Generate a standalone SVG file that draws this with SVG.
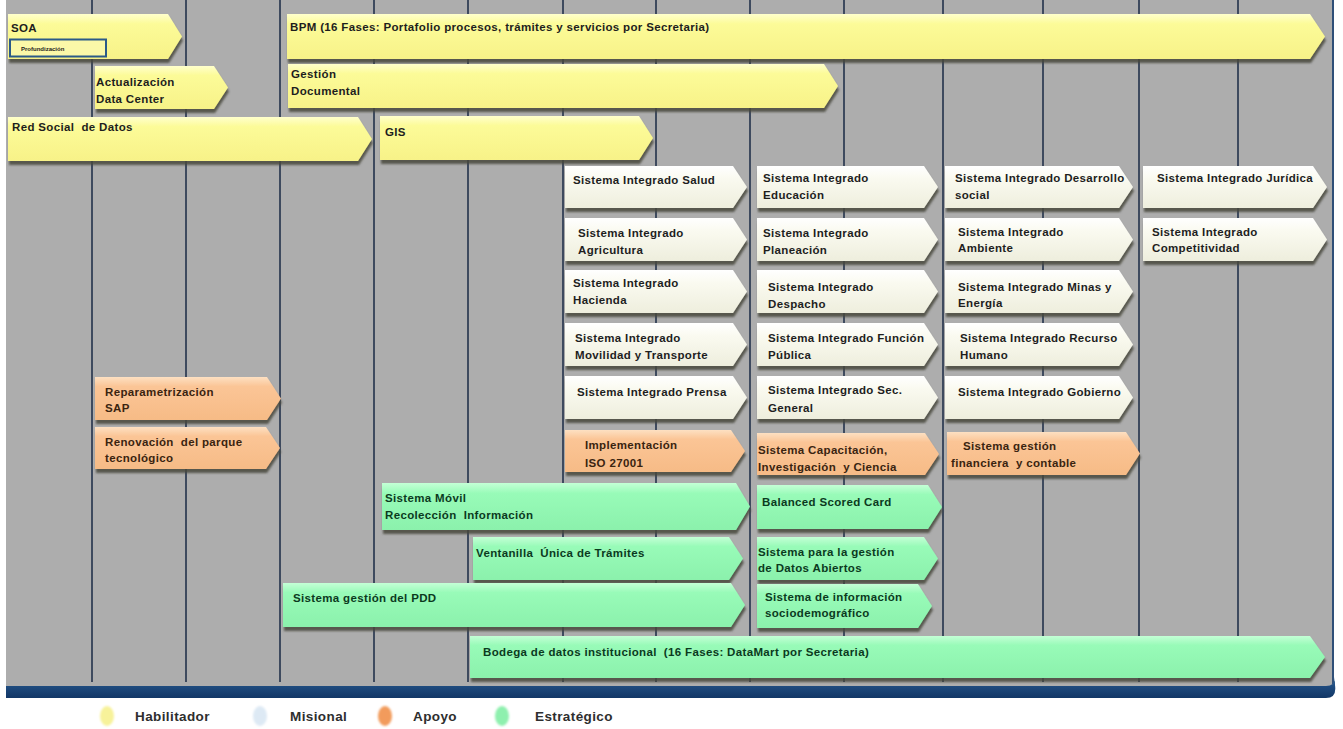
<svg xmlns="http://www.w3.org/2000/svg" width="1343" height="729" viewBox="0 0 1343 729">
  <style>
    text { font-family: "Liberation Sans", Arial, sans-serif; font-weight: bold; font-size: 11.5px; letter-spacing: 0.35px; }
    .hab { fill: url(#gHab); filter: url(#shadow); }
    .mis { fill: url(#gMis); filter: url(#shadow); }
    .apo { fill: url(#gApo); filter: url(#shadow); }
    .est { fill: url(#gEst); filter: url(#shadow); }
    .tHab, .tMis { fill: #1e1e1e; }
    .tApo { fill: #3a2410; }
    .tEst { fill: #0b3a1e; }
    .grid { stroke: #3e4a5e; stroke-width: 2; }
    .leg { font-size: 13.5px; letter-spacing: 0.4px; fill: #2e2e2e; }
  </style>
  <defs>
    <linearGradient id="gHab" x1="0" y1="0" x2="0" y2="1">
      <stop offset="0" stop-color="#ffffcc"/>
      <stop offset="0.22" stop-color="#fcfb98"/>
      <stop offset="1" stop-color="#f7f288"/>
    </linearGradient>
    <linearGradient id="gMis" x1="0" y1="0" x2="0" y2="1">
      <stop offset="0" stop-color="#ffffff"/>
      <stop offset="0.3" stop-color="#fafaf0"/>
      <stop offset="1" stop-color="#eeeedd"/>
    </linearGradient>
    <linearGradient id="gApo" x1="0" y1="0" x2="0" y2="1">
      <stop offset="0" stop-color="#fde0c2"/>
      <stop offset="0.22" stop-color="#fbc596"/>
      <stop offset="1" stop-color="#f6bb86"/>
    </linearGradient>
    <linearGradient id="gEst" x1="0" y1="0" x2="0" y2="1">
      <stop offset="0" stop-color="#c4ffd6"/>
      <stop offset="0.22" stop-color="#98fbb8"/>
      <stop offset="1" stop-color="#8bf1ac"/>
    </linearGradient>
    <linearGradient id="gBand" x1="0" y1="0" x2="0" y2="1">
      <stop offset="0" stop-color="#4a7aa8"/>
      <stop offset="0.4" stop-color="#1f4c80"/>
      <stop offset="1" stop-color="#123766"/>
    </linearGradient>
    <filter id="shadow" x="-5%" y="-20%" width="110%" height="160%">
      <feDropShadow dx="1" dy="4" stdDeviation="1.3" flood-color="#46463c" flood-opacity="0.85"/>
    </filter>
    <filter id="soft" x="-50%" y="-50%" width="200%" height="200%">
      <feGaussianBlur stdDeviation="1.2"/>
    </filter>
  </defs>

  <!-- timeline panel -->
  <rect x="6" y="0" width="1328" height="690" fill="#adadad"/>
  <g id="grid">
    <line class="grid" x1="92" y1="0" x2="92" y2="682"/>
    <line class="grid" x1="186" y1="0" x2="186" y2="682"/>
    <line class="grid" x1="280" y1="0" x2="280" y2="682"/>
    <line class="grid" x1="374" y1="0" x2="374" y2="682"/>
    <line class="grid" x1="468" y1="0" x2="468" y2="682"/>
    <line class="grid" x1="563" y1="0" x2="563" y2="682"/>
    <line class="grid" x1="656" y1="0" x2="656" y2="682"/>
    <line class="grid" x1="750" y1="0" x2="750" y2="682"/>
    <line class="grid" x1="844" y1="0" x2="844" y2="682"/>
    <line class="grid" x1="943" y1="0" x2="943" y2="682"/>
    <line class="grid" x1="1043" y1="0" x2="1043" y2="682"/>
    <line class="grid" x1="1139" y1="0" x2="1139" y2="682"/>
    <line class="grid" x1="1238" y1="0" x2="1238" y2="682"/>
    <line x1="1333" y1="0" x2="1333" y2="684" stroke="#2f4f78" stroke-width="2"/>
  </g>
  <!-- bottom base band -->
  <path d="M6 686 H1326 Q1335 686 1335 677 V685 Q1337 698 1326 698 H6 Z" fill="url(#gBand)"/>

  <!-- Habilitador -->
  <g id="soa">
    <path class="hab" d="M8 14 H168 L182 36.5 L168 59 H8 Z"/>
    <text class="tHab" x="11" y="32">SOA</text>
    <rect x="10" y="39.5" width="96" height="17" fill="#fbf8a8" stroke="#2b5a88" stroke-width="2"/>
    <text class="tHab" x="21" y="50.5" style="font-size:6px;letter-spacing:0">Profundización</text>
  </g>
  <g id="bpm">
    <path class="hab" d="M287 14 H1310 L1325 36.5 L1310 59 H287 Z"/>
    <text class="tHab" x="290" y="31">BPM (16 Fases: Portafolio procesos, trámites y servicios por Secretaria)</text>
  </g>
  <g id="actualizacion-dc">
    <path class="hab" d="M95 66 H214 L228 87.5 L214 109 H95 Z"/>
    <text class="tHab" x="96" y="86">Actualización</text>
    <text class="tHab" x="96" y="103">Data Center</text>
  </g>
  <g id="gestion-documental">
    <path class="hab" d="M288 64 H824 L838 86 L824 108 H288 Z"/>
    <text class="tHab" x="291" y="78">Gestión</text>
    <text class="tHab" x="291" y="95">Documental</text>
  </g>
  <g id="red-social">
    <path class="hab" d="M8 117 H358 L372 139 L358 161 H8 Z"/>
    <text class="tHab" x="12" y="131">Red Social&#160; de Datos</text>
  </g>
  <g id="gis">
    <path class="hab" d="M380 116 H639 L653 138 L639 160 H380 Z"/>
    <text class="tHab" x="385" y="136">GIS</text>
  </g>

  <!-- Misional: column A -->
  <g id="si-salud">
    <path class="mis" d="M565 166 H733 L747 187 L733 208 H565 Z"/>
    <text class="tMis" x="573" y="184">Sistema Integrado Salud</text>
  </g>
  <g id="si-agricultura">
    <path class="mis" d="M565 218 H733 L747 239.5 L733 261 H565 Z"/>
    <text class="tMis" x="578" y="237">Sistema Integrado</text>
    <text class="tMis" x="578" y="254">Agricultura</text>
  </g>
  <g id="si-hacienda">
    <path class="mis" d="M565 270 H733 L747 291.5 L733 313 H565 Z"/>
    <text class="tMis" x="573" y="287">Sistema Integrado</text>
    <text class="tMis" x="573" y="304">Hacienda</text>
  </g>
  <g id="si-movilidad">
    <path class="mis" d="M565 323 H733 L747 344.5 L733 366 H565 Z"/>
    <text class="tMis" x="575" y="342">Sistema Integrado</text>
    <text class="tMis" x="575" y="359">Movilidad y Transporte</text>
  </g>
  <g id="si-prensa">
    <path class="mis" d="M565 376 H733 L747 397.5 L733 419 H565 Z"/>
    <text class="tMis" x="577" y="396">Sistema Integrado Prensa</text>
  </g>

  <!-- Misional: column B -->
  <g id="si-educacion">
    <path class="mis" d="M757 166 H924 L938 187 L924 208 H757 Z"/>
    <text class="tMis" x="763" y="182">Sistema Integrado</text>
    <text class="tMis" x="763" y="199">Educación</text>
  </g>
  <g id="si-planeacion">
    <path class="mis" d="M757 218 H924 L938 239.5 L924 261 H757 Z"/>
    <text class="tMis" x="763" y="237">Sistema Integrado</text>
    <text class="tMis" x="763" y="254">Planeación</text>
  </g>
  <g id="si-despacho">
    <path class="mis" d="M757 270 H924 L938 291.5 L924 313 H757 Z"/>
    <text class="tMis" x="768" y="291">Sistema Integrado</text>
    <text class="tMis" x="768" y="308">Despacho</text>
  </g>
  <g id="si-funcion-publica">
    <path class="mis" d="M757 323 H924 L938 344.5 L924 366 H757 Z"/>
    <text class="tMis" x="768" y="342">Sistema Integrado Función</text>
    <text class="tMis" x="768" y="359">Pública</text>
  </g>
  <g id="si-sec-general">
    <path class="mis" d="M757 376 H924 L938 397.5 L924 419 H757 Z"/>
    <text class="tMis" x="768" y="394">Sistema Integrado Sec.</text>
    <text class="tMis" x="768" y="412">General</text>
  </g>

  <!-- Misional: column C -->
  <g id="si-desarrollo-social">
    <path class="mis" d="M945 166 H1119 L1133 187 L1119 208 H945 Z"/>
    <text class="tMis" x="955" y="182">Sistema Integrado Desarrollo</text>
    <text class="tMis" x="955" y="199">social</text>
  </g>
  <g id="si-ambiente">
    <path class="mis" d="M945 218 H1119 L1133 239.5 L1119 261 H945 Z"/>
    <text class="tMis" x="958" y="236">Sistema Integrado</text>
    <text class="tMis" x="958" y="252">Ambiente</text>
  </g>
  <g id="si-minas-energia">
    <path class="mis" d="M945 270 H1119 L1133 291.5 L1119 313 H945 Z"/>
    <text class="tMis" x="958" y="291">Sistema Integrado Minas y</text>
    <text class="tMis" x="958" y="307">Energía</text>
  </g>
  <g id="si-recurso-humano">
    <path class="mis" d="M945 323 H1119 L1133 344.5 L1119 366 H945 Z"/>
    <text class="tMis" x="960" y="342">Sistema Integrado Recurso</text>
    <text class="tMis" x="960" y="359">Humano</text>
  </g>
  <g id="si-gobierno">
    <path class="mis" d="M945 376 H1119 L1133 397.5 L1119 419 H945 Z"/>
    <text class="tMis" x="958" y="396">Sistema Integrado Gobierno</text>
  </g>

  <!-- Misional: column D -->
  <g id="si-juridica">
    <path class="mis" d="M1143 166 H1313 L1327 187 L1313 208 H1143 Z"/>
    <text class="tMis" x="1157" y="182">Sistema Integrado Jurídica</text>
  </g>
  <g id="si-competitividad">
    <path class="mis" d="M1143 218 H1313 L1327 239.5 L1313 261 H1143 Z"/>
    <text class="tMis" x="1152" y="236">Sistema Integrado</text>
    <text class="tMis" x="1152" y="252">Competitividad</text>
  </g>

  <!-- Apoyo -->
  <g id="reparametrizacion-sap">
    <path class="apo" d="M95 377 H267 L281 398.5 L267 420 H95 Z"/>
    <text class="tApo" x="105" y="396">Reparametrización</text>
    <text class="tApo" x="105" y="412">SAP</text>
  </g>
  <g id="renovacion-parque">
    <path class="apo" d="M95 427 H266 L280 448 L266 469 H95 Z"/>
    <text class="tApo" x="105" y="446">Renovación&#160; del parque</text>
    <text class="tApo" x="105" y="462">tecnológico</text>
  </g>
  <g id="iso-27001">
    <path class="apo" d="M565 430 H731 L745 451 L731 472 H565 Z"/>
    <text class="tApo" x="585" y="449">Implementación</text>
    <text class="tApo" x="585" y="467">ISO 27001</text>
  </g>
  <g id="capacitacion">
    <path class="apo" d="M757 433 H925 L939 454 L925 475 H757 Z"/>
    <text class="tApo" x="758" y="454">Sistema Capacitación,</text>
    <text class="tApo" x="758" y="471">Investigación&#160; y Ciencia</text>
  </g>
  <g id="gestion-financiera">
    <path class="apo" d="M947 432 H1126 L1140 453.5 L1126 475 H947 Z"/>
    <text class="tApo" x="963" y="450">Sistema gestión</text>
    <text class="tApo" x="951" y="467">financiera&#160; y contable</text>
  </g>

  <!-- Estratégico -->
  <g id="sistema-movil">
    <path class="est" d="M382 483 H736 L750 506.5 L736 530 H382 Z"/>
    <text class="tEst" x="385" y="502">Sistema Móvil</text>
    <text class="tEst" x="385" y="519">Recolección&#160; Información</text>
  </g>
  <g id="balanced-scorecard">
    <path class="est" d="M757 485 H928 L942 507 L928 529 H757 Z"/>
    <text class="tEst" x="762" y="506">Balanced Scored Card</text>
  </g>
  <g id="ventanilla-unica">
    <path class="est" d="M473 537 H729 L743 558.5 L729 580 H473 Z"/>
    <text class="tEst" x="476" y="557">Ventanilla&#160; Única de Trámites</text>
  </g>
  <g id="datos-abiertos">
    <path class="est" d="M757 537 H924 L938 558.5 L924 580 H757 Z"/>
    <text class="tEst" x="758" y="556">Sistema para la gestión</text>
    <text class="tEst" x="758" y="572">de Datos Abiertos</text>
  </g>
  <g id="gestion-pdd">
    <path class="est" d="M283 583 H731 L745 605 L731 627 H283 Z"/>
    <text class="tEst" x="293" y="602">Sistema gestión del PDD</text>
  </g>
  <g id="sociodemografico">
    <path class="est" d="M757 584 H918 L932 606 L918 628 H757 Z"/>
    <text class="tEst" x="765" y="601">Sistema de información</text>
    <text class="tEst" x="765" y="617">sociodemográfico</text>
  </g>
  <g id="bodega-datos">
    <path class="est" d="M470 636 H1310 L1325 657 L1310 678 H470 Z"/>
    <text class="tEst" x="483" y="656">Bodega de datos institucional&#160; (16 Fases: DataMart por Secretaria)</text>
  </g>

  <!-- legend -->
  <g id="legend">
    <ellipse cx="107" cy="716" rx="7" ry="10" fill="#f7f29a" filter="url(#soft)"/>
    <text class="leg" x="135" y="721">Habilitador</text>
    <ellipse cx="260" cy="716" rx="7" ry="10" fill="#dde9f4" filter="url(#soft)"/>
    <text class="leg" x="290" y="721">Misional</text>
    <ellipse cx="385" cy="716" rx="7" ry="10" fill="#f29b5c" filter="url(#soft)"/>
    <text class="leg" x="413" y="721">Apoyo</text>
    <ellipse cx="502" cy="716" rx="7" ry="10" fill="#8ef0ae" filter="url(#soft)"/>
    <text class="leg" x="535" y="721">Estratégico</text>
  </g>
</svg>
